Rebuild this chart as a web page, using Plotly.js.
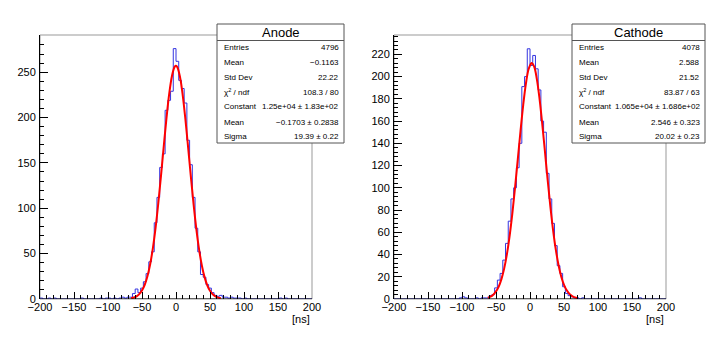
<!DOCTYPE html>
<html>
<head>
<meta charset="utf-8">
<script src="https://cdn.plot.ly/plotly-3.0.1.min.js"></script>
<style>body{margin:0;background:#fff}#plot{width:708px;height:337px}</style>
</head>
<body>
<div id="plot"></div>
<script>
// histogram binning: 100 bins of 4 ns from -200 to 200
var xMin = -200, binW = 4;

var anodeCounts = [
  1,0,0,1,0,1,0,0,0,0,
  0,0,0,0,0,1,0,0,0,0,
  0,0,1,0,1,1,0,1,0,1,
  2,1,2,2,6,11,7,12,19,28,
  41,52,84,112,145,160,208,219,229,276,
  262,241,232,216,175,148,112,78,52,27,
  24,16,12,7,4,3,4,2,2,1,
  2,1,1,1,0,1,0,0,0,0,
  0,0,0,0,0,0,0,0,1,0,
  1,0,0,0,0,0,0,0,0,0
];
var cathodeCounts = [
  0,0,0,0,0,0,0,0,0,0,
  0,0,0,0,0,0,0,0,0,0,
  0,0,0,0,1,2,1,0,0,0,
  1,0,1,1,1,3,4,10,17,23,
  35,50,70,90,100,118,140,191,200,225,
  210,219,207,188,160,150,113,90,68,48,
  30,23,11,5,3,2,1,1,0,1,
  0,0,0,0,0,0,0,0,0,0,
  0,0,0,0,0,0,0,0,0,0,
  1,0,0,0,0,0,0,0,0,0
];

// fitted gaussian curves
var anodeFitX = [-66,-62,-58,-54,-50,-46,-42,-38,-34,-30,-26,-22,-18,-14,-10,-6,-2,0,2,6,10,14,18,22,26,30,34,38,42,46,50,54,58,62,66];
var anodeFitY = [0.8,1.6,3.0,5.4,9.5,15.7,25.1,38.3,56.1,78.7,105.8,136.3,168.4,199.3,226,245.6,255.9,257,255.4,244.3,224,196.8,165.7,133.7,103.4,76.6,54.4,37,24.1,15.1,9,5.2,2.85,1.5,0.75];
var cathodeFitX = [-62,-58,-54,-50,-46,-42,-38,-34,-30,-26,-22,-18,-14,-10,-6,-2,2,2.5,6,10,14,18,22,26,30,34,38,42,46,50,54,58,62,66,70];
var cathodeFitY = [1.2,2.1,3.9,6.8,11.2,17.9,27.3,40.1,56.6,76.8,100.1,125.3,150.8,174.4,193.7,206.8,212.1,212.2,209.1,198,180.2,157.5,132.4,106.8,82.9,61.8,44.2,30.4,20.1,12.8,7.8,4.6,2.6,1.4,0.7];

var statLabels = ['Entries','Mean','Std Dev','\u03c7<sup>2</sup> / ndf','Constant','Mean','Sigma'];
var anodeStats = ['4796','\u22120.1163','22.22','108.3 / 80','1.25e+04 \u00b1 1.83e+02','\u22120.1703 \u00b1 0.2838','19.39 \u00b1 0.22'];
var cathodeStats = ['4078','2.588','21.52','83.87 / 63','1.065e+04 \u00b1 1.686e+02','2.546 \u00b1 0.323','20.02 \u00b1 0.23'];

var W = 708, H = 337;
function px(x){ return x / W; }
function py(y){ return 1 - y / H; }

function histSteps(counts){
  var xs = [], ys = [];
  for (var i = 0; i < counts.length; i++){
    xs.push(xMin + i*binW);
    ys.push(counts[i]);
  }
  xs.push(xMin + counts.length*binW);
  ys.push(counts[counts.length-1]);
  return {x: xs, y: ys};
}

var hA = histSteps(anodeCounts), hC = histSteps(cathodeCounts);
var blue = '#3434e0';

var data = [
  {x: hA.x, y: hA.y, xaxis:'x', yaxis:'y', mode:'lines', line:{shape:'hv', color:blue, width:1}},
  {x: anodeFitX, y: anodeFitY, xaxis:'x', yaxis:'y', mode:'lines', line:{shape:'spline', color:'#ff0000', width:2}},
  {x: hC.x, y: hC.y, xaxis:'x2', yaxis:'y2', mode:'lines', line:{shape:'hv', color:blue, width:1}},
  {x: cathodeFitX, y: cathodeFitY, xaxis:'x2', yaxis:'y2', mode:'lines', line:{shape:'spline', color:'#ff0000', width:2}}
];

var font = 'Liberation Sans, Arial, sans-serif';
function xAx(l, r){
  return {domain:[px(l), px(r)], range:[-200,200], dtick:50, ticks:'inside', ticklen:7, tickcolor:'#000',
    minor:{ticks:'inside', ticklen:4, dtick:10, tickcolor:'#000'},
    showline:false, showgrid:false, zeroline:false,
    tickfont:{family:font, size:11, color:'#000'}, fixedrange:true};
}
function yAx(anchor, top, major, minor){
  return {domain:[py(299), py(35)], range:[0, top], dtick:major, ticks:'inside', ticklen:8, tickcolor:'#000',
    minor:{ticks:'inside', ticklen:4, dtick:minor, tickcolor:'#000'},
    showline:true, linecolor:'#000', linewidth:1, showgrid:false, zeroline:false, anchor:anchor,
    tickfont:{family:font, size:11, color:'#000'}, ticklabelstandoff:1, fixedrange:true};
}

var shapes = [], annotations = [];
function frame(l, r, xr, yr){
  shapes.push({type:'rect', xref:'paper', yref:'paper', x0:px(l), x1:px(r), y0:py(299), y1:py(35),
    line:{color:'#999', width:1}, layer:'below'});
  // black baseline drawn over empty bins, as the ROOT axis covers them
  shapes.push({type:'line', xref:xr, yref:yr, x0:-200, x1:200, y0:0, y1:0,
    line:{color:'#000', width:1}, layer:'above'});
}
function statBox(l, r, title, values){
  shapes.push({type:'rect', xref:'paper', yref:'paper', x0:px(l), x1:px(r), y0:py(143), y1:py(24),
    fillcolor:'#fff', line:{color:'#555', width:1}, layer:'above'});
  shapes.push({type:'line', xref:'paper', yref:'paper', x0:px(l), x1:px(r), y0:py(40.5), y1:py(40.5),
    line:{color:'#555', width:1}, layer:'above'});
  annotations.push({xref:'paper', yref:'paper', x:px((l+r)/2), y:py(32.5), text:title, showarrow:false,
    xanchor:'center', yanchor:'middle', font:{family:font, size:13, color:'#000'}});
  for (var i = 0; i < statLabels.length; i++){
    var yy = py(47 + i*15);
    annotations.push({xref:'paper', yref:'paper', x:px(l+5), y:yy, text:statLabels[i], showarrow:false,
      xanchor:'left', yanchor:'middle', font:{family:font, size:8, color:'#000'}});
    annotations.push({xref:'paper', yref:'paper', x:px(r-3), y:yy, text:values[i], showarrow:false,
      xanchor:'right', yanchor:'middle', font:{family:font, size:8, color:'#000'}});
  }
}
frame(40, 312, 'x', 'y');
frame(394, 666, 'x2', 'y2');
statBox(217, 344, 'Anode', anodeStats);
statBox(572, 705, 'Cathode', cathodeStats);
annotations.push({xref:'paper', yref:'paper', x:px(312), y:py(319), text:'[ns]', showarrow:false,
  xanchor:'right', yanchor:'middle', font:{family:font, size:11, color:'#000'}});
annotations.push({xref:'paper', yref:'paper', x:px(666), y:py(319), text:'[ns]', showarrow:false,
  xanchor:'right', yanchor:'middle', font:{family:font, size:11, color:'#000'}});

var layout = {
  width: W, height: H, margin:{l:0, r:0, t:0, b:0},
  paper_bgcolor:'#fff', plot_bgcolor:'#fff', showlegend:false,
  xaxis: Object.assign(xAx(40, 312), {anchor:'y'}),
  yaxis: yAx('x', 291, 50, 10),
  xaxis2: Object.assign(xAx(394, 666), {anchor:'y2'}),
  yaxis2: yAx('x2', 237.4, 20, 4),
  shapes: shapes, annotations: annotations
};

Plotly.newPlot('plot', data, layout, {staticPlot:true, displayModeBar:false});
</script>
</body>
</html>
